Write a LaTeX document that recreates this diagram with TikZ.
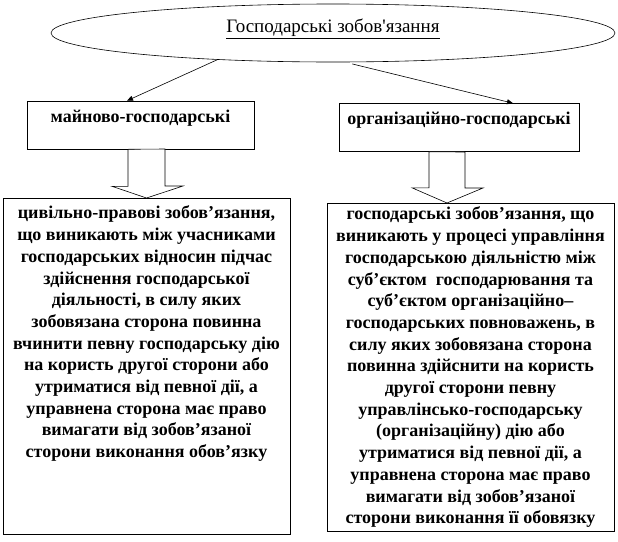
\documentclass[tikz,border=0pt]{standalone}
\usepackage{fontspec}
\setmainfont{Liberation Serif}
\usetikzlibrary{shapes.geometric, arrows.meta, calc}

\tikzset{
  ovalbox/.style={draw, ellipse, line width=0.6pt, minimum width=564pt, minimum height=58pt, inner sep=0pt, text depth=14pt, font=\fontsize{19}{21}\selectfont},
  kindbox/.style={draw, rectangle, line width=0.6pt, minimum height=48pt, inner sep=2pt, text depth=18pt, font=\fontsize{18}{21.7}\selectfont\bfseries},
  descbox/.style={draw, rectangle, line width=0.6pt, anchor=north, minimum width=287pt, align=center, inner sep=2pt, font=\fontsize{18}{21.7}\selectfont\bfseries},
  link/.style={line width=0.6pt, -{Triangle[length=6pt,width=5pt]}},
  blockarrow/.style={draw, line width=0.6pt, fill=white}
}

\begin{document}
\begin{tikzpicture}[x=1pt, y=-1pt]
    \useasboundingbox (0,0) rectangle (618,541);

    % Top oval
    \node[ovalbox] (title) at (333,33) {\underline{Господарські зобов\textquotesingle язання}};

    % Two kinds of obligations
    \node[kindbox, minimum width=227pt] (maino) at (140.5,125) {майново-господарські};
    \node[kindbox, minimum width=240pt] (org) at (459,127.5) {організаційно-господарські};

    \draw[link] (title.193) -- ($(maino.north)+(-13.5,0)$);
    \draw[link, shorten <=7pt] (title.293) -- ($(org.north)+(54,0)$);

    % Descriptions
    \node[descbox, minimum height=336pt] (civ) at (146.5,198) {цивільно-правові зобов’язання,\\
        що виникають між учасниками\\
        господарських відносин підчас\\
        здійснення господарської\\
        діяльності, в силу яких\\
        зобовязана сторона повинна\\
        вчинити певну господарську дію\\
        на користь другої сторони або\\
        утриматися від певної дії, а\\
        управнена сторона має право\\
        вимагати від зобов’язаної\\
        сторони виконання обов’язку\\
        \rule{0pt}{64pt}};
    \node[descbox, minimum height=328pt] (gosp) at (470.5,203) {господарські зобов’язання, що\\
        виникають у процесі управління\\
        господарською діяльністю між\\
        суб’єктом\ \ господарювання та\\
        суб’єктом організаційно–\\
        господарських повноважень, в\\
        силу яких зобовязана сторона\\
        повинна здійснити на користь\\
        другої сторони певну\\
        управлінсько-господарську\\
        (організаційну) дію або\\
        утриматися від певної дії, а\\
        управнена сторона має право\\
        вимагати від зобов’язаної\\
        сторони виконання її обовязку};

    % Wide arrows down
    \draw[blockarrow] ($(maino.south)+(-12.5,0)$) -- ++(0,37) -- ++(-16,0) -- (civ.north) -- ++(36.5,-12) -- ++(-18,0) -- ++(0,-37) -- cycle;
    \draw[blockarrow] ($(org.south)+(-30,0)$) -- ++(0,36) -- ++(-17,0) -- ($(gosp.north)+(-23.5,0)$) -- ++(36,-15) -- ++(-18,0) -- ++(0,-36) -- cycle;
\end{tikzpicture}
\end{document}
